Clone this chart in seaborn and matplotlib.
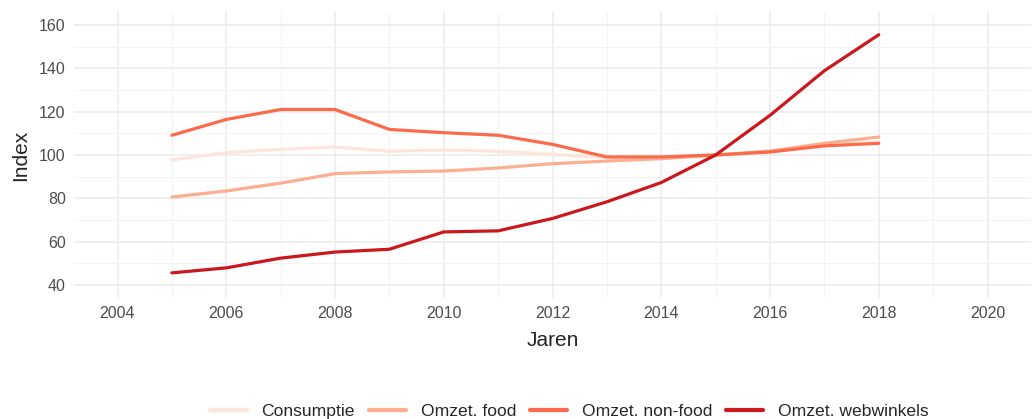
import matplotlib.pyplot as plt
import seaborn as sns
import pandas as pd
from matplotlib.ticker import MultipleLocator

years = list(range(2005, 2019))
consumptie = [97.7, 101.1, 102.6, 103.7, 101.7, 102.3, 101.7, 100.3, 98.8, 98.6, 100.0, 101.5, 104.5, 106.0]
omzet_food = [80.6, 83.4, 87.0, 91.4, 92.2, 92.6, 94.0, 96.0, 97.2, 98.3, 100.0, 101.8, 105.4, 108.3]
omzet_nonfood = [109.1, 116.4, 121.0, 121.0, 111.8, 110.3, 109.1, 104.9, 99.1, 99.1, 100.0, 101.4, 104.2, 105.4]
omzet_web = [45.6, 47.9, 52.4, 55.2, 56.5, 64.5, 65.0, 70.7, 78.4, 87.3, 100.0, 118.3, 138.9, 155.5]

series_names = ["Consumptie", "Omzet. food", "Omzet. non-food", "Omzet. webwinkels"]
colors = ["#FEE5D9", "#FCAE91", "#FB6A4A", "#CB181D"]

df = pd.DataFrame({
    "Jaren": years * 4,
    "Index": consumptie + omzet_food + omzet_nonfood + omzet_web,
    "serie": sum([[n] * len(years) for n in series_names], []),
})

sns.set_style("white")
plt.rcParams["font.family"] = ["Liberation Sans", "DejaVu Sans"]

fig = plt.figure(figsize=(10.33, 4.19), dpi=100)
ax = fig.add_axes([74 / 1033, 1 - 298 / 419, (1031 - 74) / 1033, (298 - 12) / 419])

sns.lineplot(data=df, x="Jaren", y="Index", hue="serie", palette=colors,
             linewidth=2.3, ax=ax, legend=False)

# limits like ggplot with 5% expansion
ax.set_xlim(2004 - 0.8, 2020 + 0.8)
ax.set_ylim(40 - 6, 160 + 6)
ax.xaxis.set_minor_locator(MultipleLocator(1))
ax.yaxis.set_minor_locator(MultipleLocator(10))
ax.set_yticks(range(40, 161, 20))
ax.set_xticks(range(2004, 2021, 2))

ax.grid(which="major", color="#EBEBEB", linewidth=1.1)
ax.grid(which="minor", color="#F3F3F3", linewidth=0.7)
ax.set_axisbelow(True)
for s in ax.spines.values():
    s.set_visible(False)
ax.tick_params(which="both", length=0, labelsize=11.5, labelcolor="#4D4D4D", pad=6)

ax.set_xlabel("Jaren", fontsize=15, labelpad=7)
ax.set_ylabel("Index", fontsize=15, labelpad=6)

handles = [plt.Line2D([], [], color=c, linewidth=3) for c in colors]
fig.legend(handles, series_names, loc="center", bbox_to_anchor=(0.551, 0.019),
           ncol=4, frameon=False, fontsize=12.6, handlelength=2.1,
           handletextpad=0.85, columnspacing=0.8)

fig.savefig("out.png", dpi=100)
